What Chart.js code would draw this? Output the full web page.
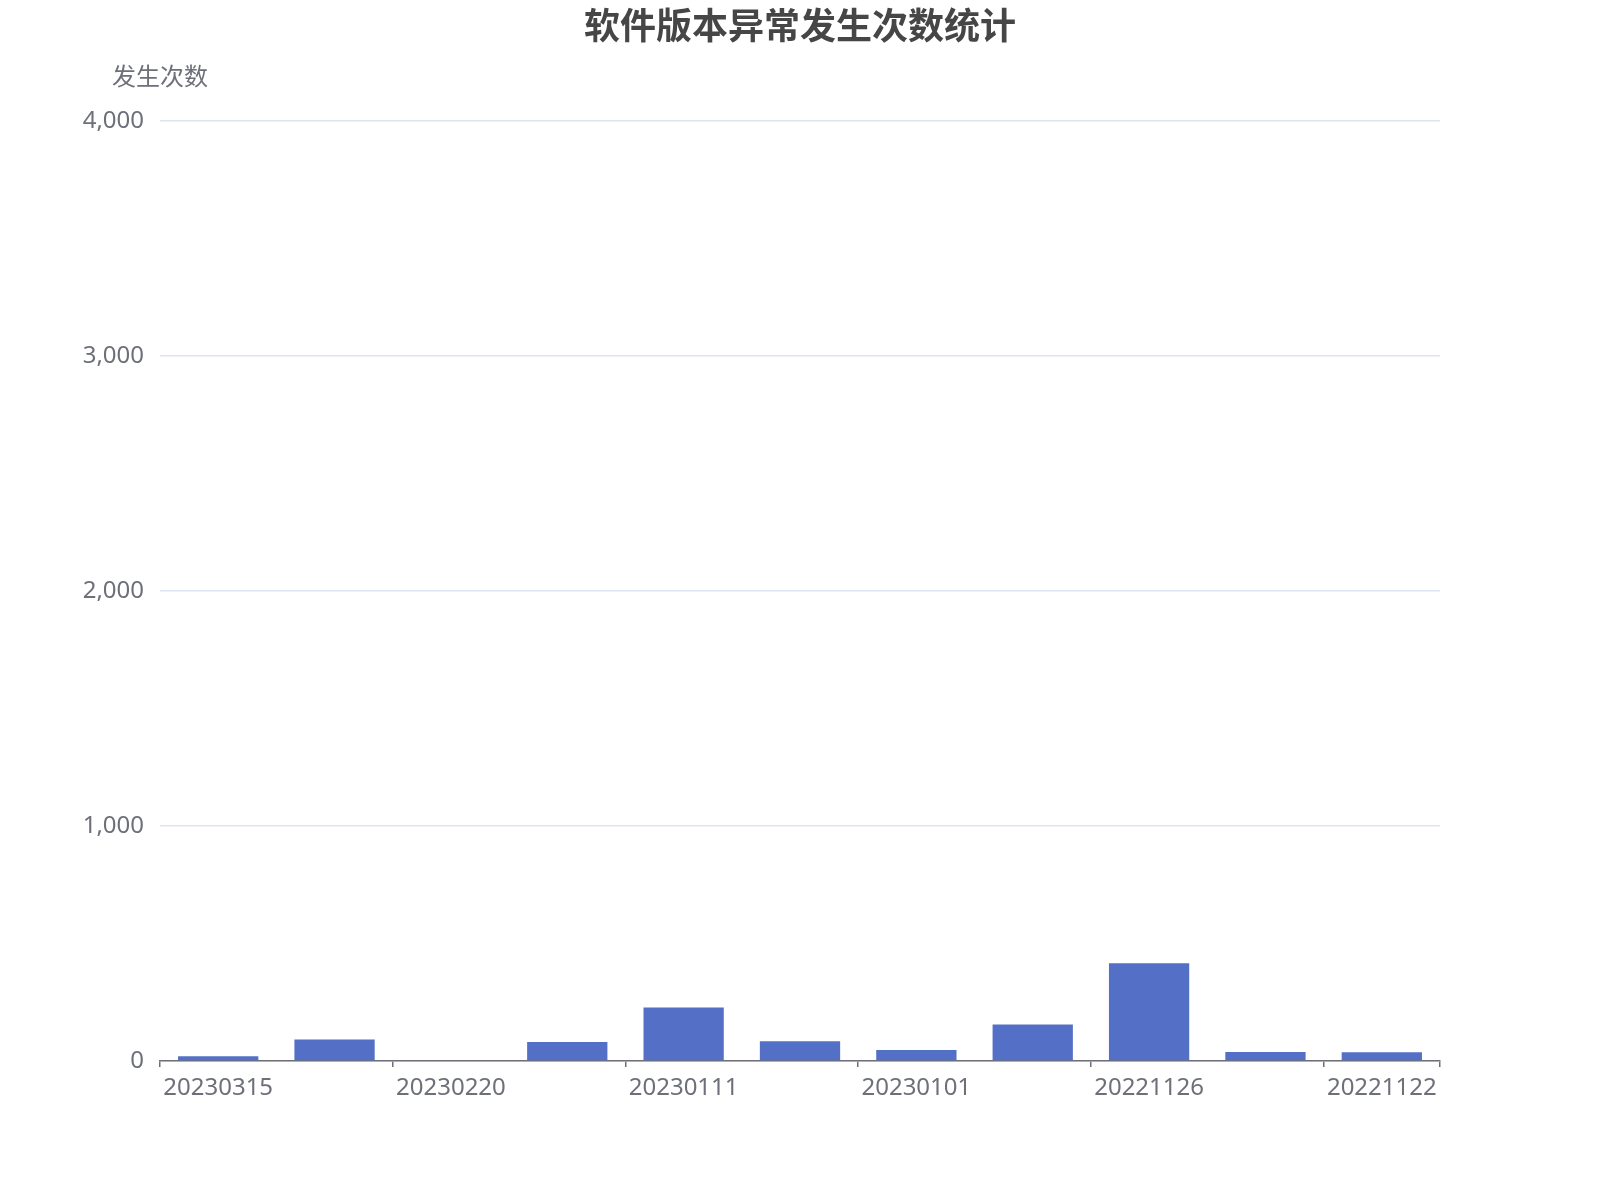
<!DOCTYPE html>
<html>
<head>
<meta charset="utf-8">
<script src="https://cdn.jsdelivr.net/npm/chart.js@4"></script>
<style>
  html, body { margin:0; padding:0; background:#fff; }
  #wrap { width:1600px; height:1200px; }
</style>
</head>
<body>
<div id="wrap"><canvas id="chart" width="1600" height="1200"></canvas></div>
<script>
// data (every other date label is hidden there)
const versions = ['20230315','20230301','20230220','20230201','20230111','20230105','20230101','20221215','20221126','20221124','20221122'];
const counts = [20, 91, 0, 81, 228, 84, 47, 155, 416, 38, 37];
const yTicks = [0, 1000, 2000, 3000, 4000];

const FONT = "'Noto Sans', 'Noto Sans CJK SC', sans-serif";
const axisGray = '#6E7079';

// title centred on the canvas + horizontal axis name above the value axis, like echarts
const headings = {
  id:'headings',
  afterDraw(chart){
    const {ctx, chartArea, width} = chart;
    ctx.save();
    ctx.textAlign = 'center';
    ctx.textBaseline = 'middle';
    ctx.font = `bold 36px ${FONT}`;
    ctx.fillStyle = '#464646';
    ctx.fillText('软件版本异常发生次数统计', width / 2, 29);
    ctx.font = `24px ${FONT}`;
    ctx.fillStyle = axisGray;
    ctx.fillText('发生次数', chartArea.left, chartArea.top - 43);
    ctx.restore();
  }
};

new Chart(document.getElementById('chart').getContext('2d'), {
  type:'bar',
  data:{ labels:versions, datasets:[{ label:'发生次数', data:counts, backgroundColor:'#5470c6', borderWidth:0, barPercentage:0.69, categoryPercentage:1 }]},
  options:{
    responsive:false, animation:false,
    layout:{ padding:{ left:0, right:160, top:121, bottom:0 } },
    plugins:{ legend:{ display:false }, tooltip:{ enabled:false }, title:{ display:false } },
    scales:{
      x:{
        afterFit: s => { s.height = 139; },
        border:{ color:axisGray, width:1.5 },
        grid:{ offset:true, drawOnChartArea:false, tickLength:6, lineWidth:1.5,
          color: c => (c.index === undefined || c.index % 2 === 0) ? axisGray : 'rgba(0,0,0,0)' },
        ticks:{ autoSkip:false, maxRotation:0, padding:7, color:axisGray, font:{ family:FONT, size:24 },
          callback: (v, i) => i % 2 === 0 ? versions[i] : '' }
      },
      y:{
        min:yTicks[0], max:yTicks[yTicks.length-1],
        afterFit: s => { s.width = 160; },
        afterBuildTicks: s => { s.ticks = yTicks.map(v => ({ value:v })); },
        border:{ display:false },
        grid:{ color:'#DDE4F0', lineWidth:1.5, drawTicks:false },
        ticks:{ padding:16, color:axisGray, font:{ family:FONT, size:24 } }
      }
    }
  },
  plugins:[headings]
});
</script>
</body>
</html>
